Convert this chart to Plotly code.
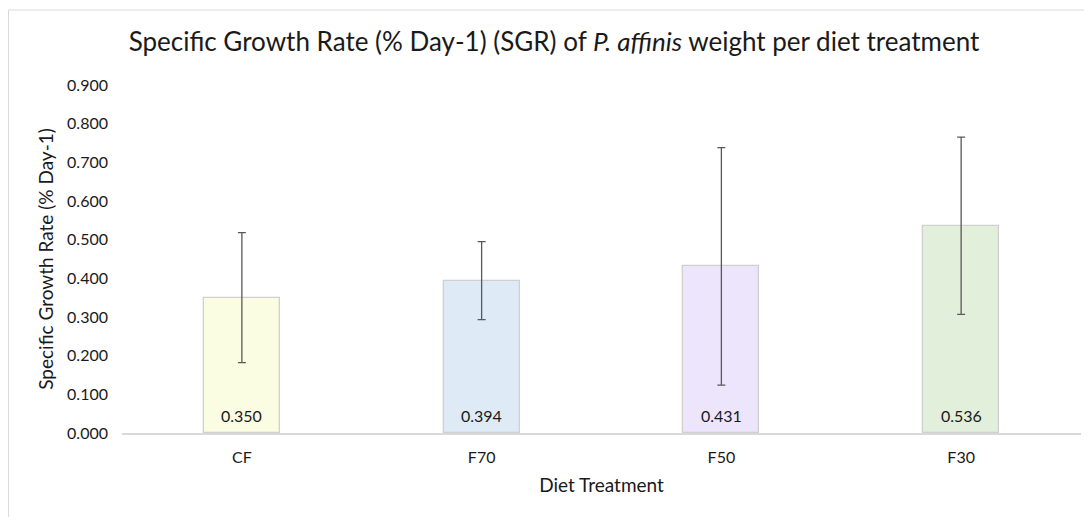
import plotly.graph_objects as go

categories = ["CF", "F70", "F50", "F30"]
sgr_values = [0.350, 0.394, 0.431, 0.536]
sgr_errors = [0.168, 0.101, 0.307, 0.229]
bar_colors = ["#FAFDE2", "#DEEAF6", "#EDE5FC", "#E2EFDA"]
y_ticks = [0.0, 0.1, 0.2, 0.3, 0.4, 0.5, 0.6, 0.7, 0.8, 0.9]

FONT = "Lato"
TXT = "#1a1a1a"

fig = go.Figure()
fig.add_trace(go.Bar(
    x=categories,
    y=sgr_values,
    width=0.317,
    marker=dict(color=bar_colors, line=dict(color="#D0D0D0", width=1.3)),
    error_y=dict(type="data", array=sgr_errors, visible=True,
                 color="#595959", thickness=1.3, width=4),
    showlegend=False,
    hoverinfo="x+y",
))

# value labels near the base of each bar
for c, v in zip(categories, sgr_values):
    fig.add_annotation(x=c, y=0, text=f"{v:.3f}", showarrow=False,
                       yshift=18, yanchor="middle",
                       font=dict(family=FONT, size=16, color=TXT))

# the page body adds an 8px offset; size the figure to fit the window
OFF = 8
W, H = 1092 - OFF, 517 - OFF
ml, mr, mt, mb = 122 - OFF, 11, 85 - OFF, 84
pw = W - ml - mr
ph = H - mt - mb

fig.update_layout(
    width=W, height=H,
    margin=dict(l=ml, r=mr, t=mt, b=mb),
    paper_bgcolor="white", plot_bgcolor="white",
    title=dict(
        text="Specific Growth Rate (% Day-1) (SGR) of <i>P. affinis</i> weight per diet treatment",
        x=(554 - OFF - ml) / pw, xref="paper", xanchor="center",
        y=1 - (42 - OFF) / H, yref="container", yanchor="middle",
        font=dict(family=FONT, size=26, color=TXT),
    ),
    font=dict(family=FONT, color=TXT),
    bargap=0,
    xaxis=dict(
        title=dict(text="Diet Treatment", font=dict(family=FONT, size=19, color=TXT), standoff=14),
        showline=True, linecolor="#D9D9D9", linewidth=1.5,
        showgrid=False, ticks="", tickfont=dict(family=FONT, size=16, color=TXT),
        ticklabelstandoff=9, automargin=False,
    ),
    yaxis=dict(
        title=dict(text="Specific Growth Rate (% Day-1)", font=dict(family=FONT, size=19, color=TXT), standoff=8),
        range=[0, 0.9], tickvals=y_ticks, tickformat=".3f",
        showgrid=False, showline=False, zeroline=False, ticks="",
        tickfont=dict(family=FONT, size=16, color=TXT),
        ticklabelstandoff=13, automargin=False,
    ),
    shapes=[dict(
        type="rect", xref="paper", yref="paper",
        x0=(0.5 - ml) / pw, x1=(W + 20 - ml) / pw,
        y0=-(mb + 10) / ph,
        y1=1 + (mt - 2) / ph,
        line=dict(color="#D9D9D9", width=1), fillcolor="rgba(0,0,0,0)", layer="below",
    )],
)

fig.write_html("out.html")
